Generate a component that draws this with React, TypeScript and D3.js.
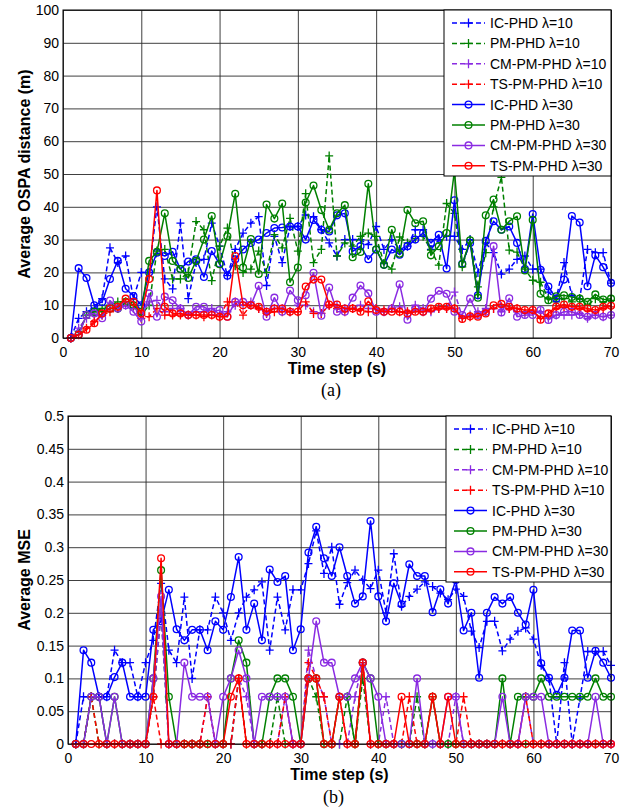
import * as d3 from 'd3';
import { useEffect, useRef } from 'react';

const WIDTH = 632;
const HEIGHT = 811;
const FONT = 'Liberation Sans, Arial, Helvetica, sans-serif';

const STEPS = d3.range(1, 71);
const X_TICKS = [0, 10, 20, 30, 40, 50, 60, 70];
const OSPA_TICKS = [0, 10, 20, 30, 40, 50, 60, 70, 80, 90, 100];
const MSE_TICKS = [0, 0.05, 0.1, 0.15, 0.2, 0.25, 0.3, 0.35, 0.4, 0.45, 0.5];

const LABELS = [
    'IC-PHD λ=10',
    'PM-PHD λ=10',
    'CM-PM-PHD λ=10',
    'TS-PM-PHD λ=10',
    'IC-PHD λ=30',
    'PM-PHD λ=30',
    'CM-PM-PHD λ=30',
    'TS-PM-PHD λ=30',
];
const COLORS = ['#0000ff', '#008000', '#8a2be2', '#ff0000'];

// (a) average OSPA distance
const icA10 = [0, 6, 8, 9, 12, 27.5, 23, 25, 12, 20, 20, 40, 18, 15, 35, 12, 23, 24, 35, 28, 19, 27, 32, 35, 37, 16, 31, 23, 34, 34, 37.5, 37, 33, 29, 25, 30, 30, 30, 28.5, 34, 27, 30, 27, 28, 33, 33, 27, 30, 31, 31, 27, 30, 20, 29, 26, 19.5, 21, 24, 25, 21, 21, 14, 12, 23, 13, 12, 27, 26, 26, 16.7];
const pmA10 = [0, 2, 7, 8, 9, 10, 11, 11, 10, 7, 10, 26.5, 27, 18, 18, 20, 35.5, 33, 17.5, 28, 33.5, 22, 20, 21, 26.5, 20, 31.5, 27.5, 36.5, 26.5, 44, 23, 27, 55.5, 25, 29, 28, 31, 32, 31, 22.7, 21, 30.8, 29, 30.3, 31, 26.8, 22.2, 41, 38, 21.7, 29.8, 15.6, 26, 40, 49, 26.8, 26.2, 21, 17.6, 17, 12, 11, 12, 11, 12, 10, 12, 11, 11.5];
const cmA10 = [0, 3, 6, 7, 7, 9, 9, 10, 9, 7, 11, 11.5, 8, 9, 9, 7, 8, 8, 9, 7, 8, 10, 10, 11, 9, 8, 9, 9, 8, 10, 10, 8, 7.5, 10, 10, 9, 9, 10, 9, 9, 8, 9, 9.5, 8, 10, 9, 8, 9, 9, 14, 6.5, 7, 8, 9, 9, 8, 9, 8, 7.5, 8, 8, 6, 7, 7, 7, 7.5, 6, 7, 6.5, 7];
const tsA10 = [0, 1, 3, 5, 7, 8, 9, 11, 10, 6, 6.5, 9, 7, 7, 7, 7, 7, 6.5, 7, 6.5, 11, 11, 7, 10, 9, 7.5, 8, 8, 8, 8, 11, 7.5, 7.5, 10, 9, 8, 9, 8.5, 8, 9, 8.5, 9, 8, 8, 8.5, 8, 8.5, 9, 9, 9, 6, 6.5, 7, 8, 9, 9.5, 9, 9, 8, 8.5, 6, 7, 9, 9.5, 9, 9, 8.5, 8, 9, 9.5];
const icA30 = [0, 21.3, 18.3, 10, 11, 18, 23.5, 15, 12.8, 10, 20, 26, 25, 26.3, 21, 23.3, 24, 18.6, 26.5, 22.6, 19, 24, 27, 29, 30, 32, 33.5, 33.7, 34, 34, 30, 36, 33, 32.5, 37.4, 38, 26.4, 28, 24, 27, 22.3, 27, 25.4, 28, 30, 32, 29, 31.5, 21.2, 42, 22.6, 29, 13, 29.6, 35.6, 33, 34, 29, 21, 37.8, 20.8, 15.7, 12, 17.8, 37.2, 35.2, 15.8, 25.2, 21.6, 16.8];
const pmA30 = [0, 1, 7, 8, 8, 9, 9, 11, 10, 8, 23.5, 26.3, 38, 23.5, 21, 18.3, 23.5, 30, 37.2, 22.5, 31, 44, 21.5, 30.2, 19.5, 40.7, 36.4, 41, 17, 21.5, 41.3, 46.5, 39, 33, 38, 40.5, 24.6, 26.2, 47, 27, 22.3, 33, 25.7, 39, 35, 35.6, 25.2, 28, 32, 51, 22.5, 29.8, 12.3, 37.4, 42.2, 33, 35.6, 37.1, 20.6, 36, 13.5, 11.5, 12.7, 13, 12.5, 12, 11, 13.3, 11.7, 12];
const cmA30 = [0, 1, 7, 7.5, 6, 11.4, 9, 10, 8, 5, 13.6, 6.5, 12.6, 11.5, 9, 7, 9.5, 9.5, 8, 8.5, 6.5, 11, 11, 10, 15.9, 6.5, 12.3, 8, 14.5, 11.5, 13, 19.9, 6.8, 15.4, 8, 8, 12.3, 16, 13.6, 8, 8, 9, 16.4, 5.6, 9, 8, 12, 14.4, 13.5, 8, 7, 12, 7, 8, 28, 7.8, 12.1, 6.5, 7, 7, 8.5, 5.5, 7, 8, 8, 7, 6.5, 7, 6.5, 7];
const tsA30 = [0, 1, 2.5, 4.5, 7.5, 9, 9.5, 12, 11, 7.5, 18, 45, 9.5, 7.5, 7.5, 7, 7, 7, 7, 6.5, 6.5, 25, 10, 10, 9.5, 8, 9, 9, 8, 8, 15.7, 17.8, 17.8, 10.2, 10.2, 9, 9, 8, 11.2, 8.5, 8, 8, 8, 7.5, 8, 8, 9, 9.5, 9.5, 9, 5.8, 6.6, 6.5, 7.5, 10, 10.4, 9.5, 9, 8.5, 8.5, 5.6, 7.5, 9.6, 10.2, 9.5, 9.5, 9, 8.5, 9.5, 9.8];

// (b) average MSE
const icB10 = [0, 0.072, 0.072, 0.072, 0.072, 0.143, 0.124, 0.124, 0.072, 0.124, 0.158, 0.245, 0.143, 0.124, 0.224, 0.1, 0.174, 0.174, 0.224, 0.2, 0.158, 0.2, 0.224, 0.235, 0.247, 0.143, 0.224, 0.174, 0.235, 0.235, 0.275, 0.325, 0.26, 0.3, 0.213, 0.246, 0.265, 0.25, 0.237, 0.265, 0.2, 0.29, 0.21, 0.225, 0.236, 0.247, 0.24, 0.23, 0.22, 0.236, 0.225, 0.172, 0.147, 0.187, 0.187, 0.142, 0.16, 0.172, 0.177, 0.16, 0.12, 0.1, 0, 0.124, 0, 0.07, 0.141, 0.141, 0.141, 0.12];
const pmB10 = [0, 0, 0.072, 0, 0, 0, 0, 0, 0, 0, 0.072, 0.2, 0, 0, 0, 0, 0, 0, 0, 0, 0, 0.1, 0, 0, 0, 0, 0.072, 0, 0, 0, 0.1, 0.072, 0, 0, 0, 0.072, 0, 0.1, 0, 0, 0, 0, 0, 0, 0.072, 0, 0, 0, 0, 0, 0, 0, 0, 0, 0, 0, 0, 0, 0, 0, 0, 0, 0, 0, 0, 0, 0, 0, 0, 0];
const cmB10 = [0, 0, 0.072, 0.072, 0, 0, 0, 0, 0, 0, 0.072, 0.2, 0, 0, 0, 0, 0, 0.072, 0, 0, 0, 0.1, 0.072, 0, 0, 0, 0, 0.072, 0, 0, 0.143, 0.1, 0.072, 0, 0, 0, 0.072, 0.124, 0, 0, 0.072, 0, 0, 0, 0, 0, 0, 0, 0, 0.072, 0, 0, 0, 0, 0, 0, 0, 0, 0.072, 0, 0, 0, 0, 0, 0, 0, 0, 0, 0, 0];
const tsB10 = [0, 0, 0.072, 0, 0, 0, 0, 0, 0, 0, 0.072, 0, 0, 0, 0, 0, 0, 0.072, 0, 0, 0, 0.1, 0, 0, 0, 0, 0, 0.072, 0, 0, 0.124, 0.1, 0.072, 0, 0.072, 0, 0, 0.124, 0, 0, 0, 0, 0, 0.072, 0, 0, 0.072, 0, 0, 0, 0.072, 0, 0, 0, 0, 0, 0, 0, 0.072, 0, 0, 0, 0, 0, 0, 0, 0, 0, 0, 0];
const icB30 = [0, 0.143, 0.124, 0.072, 0.072, 0.102, 0.124, 0.072, 0.072, 0.072, 0.174, 0.187, 0.235, 0.175, 0.158, 0.174, 0.174, 0.143, 0.187, 0.174, 0.224, 0.285, 0.174, 0.214, 0.158, 0.266, 0.247, 0.256, 0.143, 0.175, 0.292, 0.331, 0.283, 0.256, 0.3, 0.256, 0.214, 0.225, 0.34, 0.225, 0.187, 0.245, 0.213, 0.274, 0.256, 0.256, 0.201, 0.236, 0.214, 0.25, 0.173, 0.2, 0.101, 0.2, 0.224, 0.214, 0.224, 0.2, 0.182, 0.235, 0.123, 0.101, 0.075, 0.101, 0.173, 0.173, 0.101, 0.142, 0.124, 0.101];
const pmB30 = [0, 0, 0.072, 0.072, 0, 0.072, 0, 0, 0, 0, 0.1, 0.265, 0.072, 0, 0, 0, 0, 0, 0, 0, 0.1, 0.158, 0.124, 0, 0, 0.072, 0.1, 0.1, 0.072, 0, 0.1, 0.1, 0, 0, 0.072, 0.072, 0, 0.124, 0.1, 0, 0, 0, 0, 0, 0, 0, 0.072, 0, 0, 0, 0, 0, 0, 0, 0, 0.1, 0, 0.072, 0.072, 0.072, 0.1, 0.072, 0.072, 0.072, 0.072, 0.072, 0.072, 0.1, 0.072, 0.072];
const cmB30 = [0, 0, 0.072, 0.072, 0, 0.072, 0, 0, 0, 0, 0.1, 0.225, 0, 0, 0.124, 0.072, 0.072, 0.072, 0, 0.072, 0.1, 0.143, 0.1, 0, 0.072, 0.072, 0.072, 0.072, 0, 0, 0.1, 0.187, 0.124, 0.124, 0.072, 0.072, 0.1, 0.124, 0.1, 0.072, 0, 0, 0, 0, 0.1, 0, 0, 0, 0.072, 0.072, 0, 0, 0, 0, 0, 0.072, 0, 0, 0.072, 0.072, 0.072, 0, 0, 0, 0, 0, 0, 0.072, 0, 0];
const tsB30 = [0, 0, 0, 0, 0, 0, 0, 0, 0, 0, 0.072, 0.283, 0, 0, 0, 0, 0, 0, 0, 0, 0.072, 0.1, 0, 0, 0, 0, 0, 0, 0, 0, 0.1, 0.1, 0, 0, 0.072, 0, 0, 0.124, 0, 0, 0, 0, 0.072, 0, 0, 0, 0.072, 0, 0.072, 0, 0, 0, 0, 0, 0, 0, 0, 0, 0, 0, 0, 0, 0, 0, 0, 0, 0, 0, 0, 0];

interface Panel {
    left: number;
    top: number;
    right: number;
    bottom: number;
    yMax: number;
    yTicks: number[];
    yLabel: string;
    caption: string;
    xLabelY: number;
    captionY: number;
    legendX: number;
    series: number[][];
}

const PANELS: Panel[] = [
    {
        left: 63,
        top: 10,
        right: 611,
        bottom: 338,
        yMax: 100,
        yTicks: OSPA_TICKS,
        yLabel: 'Average OSPA distance (m)',
        caption: '(a)',
        xLabelY: 374,
        captionY: 396,
        legendX: 444,
        series: [icA10, pmA10, cmA10, tsA10, icA30, pmA30, cmA30, tsA30],
    },
    {
        left: 68,
        top: 416,
        right: 611,
        bottom: 744,
        yMax: 0.5,
        yTicks: MSE_TICKS,
        yLabel: 'Average MSE',
        caption: '(b)',
        xLabelY: 780,
        captionY: 803,
        legendX: 446,
        series: [icB10, pmB10, cmB10, tsB10, icB30, pmB30, cmB30, tsB30],
    },
];

type Sel = d3.Selection<SVGGElement, unknown, null, undefined>;

function drawMarker(g: Sel, cx: number, cy: number, circle: boolean, color: string) {
    if (circle) {
        g.append('circle')
            .attr('cx', cx)
            .attr('cy', cy)
            .attr('r', 3.4)
            .attr('fill', 'none')
            .attr('stroke', color)
            .attr('stroke-width', 1.3);
    } else {
        g.append('path')
            .attr('d', `M${cx - 4},${cy}h8M${cx},${cy - 4.5}v9`)
            .attr('stroke', color)
            .attr('stroke-width', 1.3);
    }
}

function drawPanel(svg: d3.Selection<SVGSVGElement, unknown, null, undefined>, p: Panel) {
    const x = d3.scaleLinear().domain([0, 70]).range([p.left, p.right]);
    const y = d3.scaleLinear().domain([0, p.yMax]).range([p.bottom, p.top]);
    const g = svg.append<SVGGElement>('g');
    const innerW = p.right - p.left;
    const innerH = p.bottom - p.top;

    // grid
    const gx = g
        .append('g')
        .attr('transform', `translate(0,${p.bottom})`)
        .call(d3.axisBottom(x).tickValues(X_TICKS).tickSize(-innerH).tickFormat(() => ''));
    const gy = g
        .append('g')
        .attr('transform', `translate(${p.left},0)`)
        .call(d3.axisLeft(y).tickValues(p.yTicks).tickSize(-innerW).tickFormat(() => ''));
    [gx, gy].forEach((a) => {
        a.select('.domain').remove();
        a.selectAll('line').attr('stroke', '#2a2a2a').attr('stroke-width', 0.9);
    });

    // tick labels
    const lx = g
        .append('g')
        .attr('transform', `translate(0,${p.bottom})`)
        .call(d3.axisBottom(x).tickValues(X_TICKS).tickSize(0).tickPadding(9).tickFormat(d3.format('d')));
    const ly = g
        .append('g')
        .attr('transform', `translate(${p.left},0)`)
        .call(
            d3
                .axisLeft(y)
                .tickValues(p.yTicks)
                .tickSize(0)
                .tickPadding(4)
                .tickFormat((d) => String(+(+d).toFixed(2)))
        );
    [lx, ly].forEach((a) => {
        a.select('.domain').remove();
        a.attr('font-family', FONT).attr('font-size', 14);
        a.selectAll('text').attr('fill', '#000');
    });

    // series: dashed lambda=10 first, solid lambda=30 on top
    const line = d3
        .line<number>()
        .x((_, i) => x(STEPS[i]))
        .y((v) => y(v));
    p.series.forEach((values, k) => {
        const color = COLORS[k % 4];
        const solid = k >= 4;
        const s = g.append<SVGGElement>('g');
        s.append('path')
            .datum(values)
            .attr('d', line)
            .attr('fill', 'none')
            .attr('stroke', color)
            .attr('stroke-width', 1.5)
            .attr('stroke-linejoin', 'round')
            .attr('stroke-dasharray', solid ? null : '5,3');
        values.forEach((v, i) => drawMarker(s, x(STEPS[i]), y(v), solid, color));
    });

    // box
    g.append('rect')
        .attr('x', p.left)
        .attr('y', p.top)
        .attr('width', innerW)
        .attr('height', innerH)
        .attr('fill', 'none')
        .attr('stroke', '#000')
        .attr('stroke-width', 1);

    // legend
    const legH = 166;
    const leg = g.append<SVGGElement>('g');
    leg.append('rect')
        .attr('x', p.legendX)
        .attr('y', p.top)
        .attr('width', p.right - p.legendX)
        .attr('height', legH)
        .attr('fill', '#fff')
        .attr('stroke', '#000')
        .attr('stroke-width', 1);
    LABELS.forEach((label, k) => {
        const color = COLORS[k % 4];
        const solid = k >= 4;
        const cy = p.top + 13 + k * 20.4;
        const x0 = p.legendX + 8;
        leg.append('line')
            .attr('x1', x0)
            .attr('x2', x0 + 33)
            .attr('y1', cy)
            .attr('y2', cy)
            .attr('stroke', color)
            .attr('stroke-width', 1.5)
            .attr('stroke-dasharray', solid ? null : '5,3');
        drawMarker(leg, x0 + 16.5, cy, solid, color);
        leg.append('text')
            .attr('x', x0 + 38)
            .attr('y', cy + 5)
            .attr('font-family', FONT)
            .attr('font-size', 14)
            .attr('fill', '#000')
            .text(label);
    });

    // axis labels and caption
    const midX = (p.left + p.right) / 2;
    g.append('text')
        .attr('x', midX)
        .attr('y', p.xLabelY)
        .attr('text-anchor', 'middle')
        .attr('font-family', FONT)
        .attr('font-size', 16)
        .attr('font-weight', 'bold')
        .text('Time step (s)');
    g.append('text')
        .attr('transform', `translate(30,${(p.top + p.bottom) / 2}) rotate(-90)`)
        .attr('text-anchor', 'middle')
        .attr('font-family', FONT)
        .attr('font-size', 16)
        .attr('font-weight', 'bold')
        .text(p.yLabel);
    g.append('text')
        .attr('x', midX - 6)
        .attr('y', p.captionY)
        .attr('text-anchor', 'middle')
        .attr('font-family', 'Liberation Serif, Times New Roman, serif')
        .attr('font-size', 18)
        .text(p.caption);
}

export default function App() {
    const svgRef = useRef<SVGSVGElement>(null);

    useEffect(() => {
        if (!svgRef.current) return;
        const svg = d3.select(svgRef.current);
        svg.selectAll('*').remove();
        PANELS.forEach((p) => drawPanel(svg, p));
    }, []);

    return (
        <svg
            ref={svgRef}
            width={WIDTH}
            height={HEIGHT}
            style={{ position: 'absolute', left: 0, top: 0, background: '#fff' }}
        ></svg>
    );
}
